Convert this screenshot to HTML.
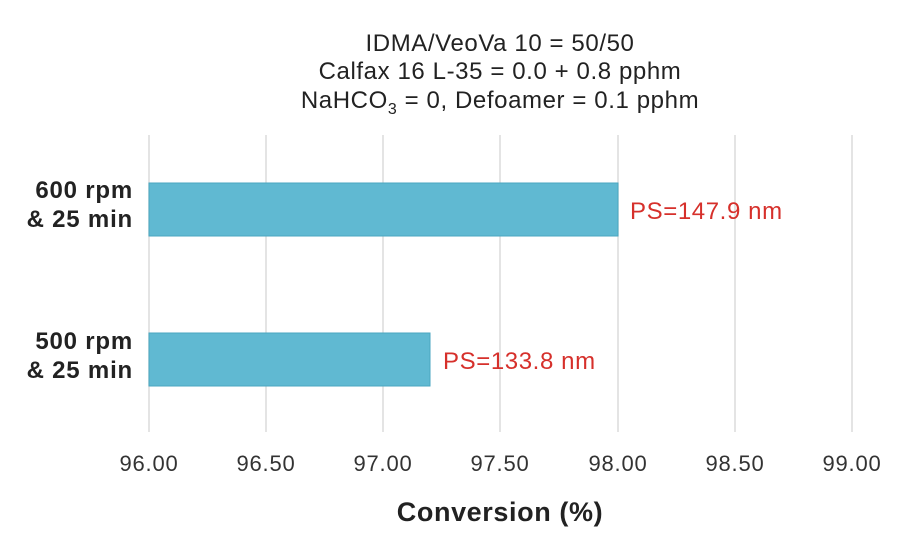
<!DOCTYPE html>
<html><head><meta charset="utf-8"><style>
body{margin:0;background:#fff;}
svg{display:block;font-family:"Liberation Sans",sans-serif;}
</style></head><body>
<svg width="900" height="550" viewBox="0 0 900 550">
<g stroke="#dcdcdc" stroke-width="1.5">
<line x1="149" y1="135" x2="149" y2="432"/>
<line x1="266" y1="135" x2="266" y2="432"/>
<line x1="383" y1="135" x2="383" y2="432"/>
<line x1="500" y1="135" x2="500" y2="432"/>
<line x1="618" y1="135" x2="618" y2="432"/>
<line x1="735" y1="135" x2="735" y2="432"/>
<line x1="852" y1="135" x2="852" y2="432"/>
</g>
<rect x="149" y="183" width="469" height="53" fill="#60b9d2" stroke="#4aa6c0" stroke-width="1"/>
<rect x="149" y="333" width="281" height="53" fill="#60b9d2" stroke="#4aa6c0" stroke-width="1"/>
<g fill="#d6302b" font-size="24" letter-spacing="0.6">
<text x="630" y="219">PS=147.9 nm</text>
<text x="443" y="369">PS=133.8 nm</text>
</g>
<g fill="#222" font-size="24" font-weight="bold" text-anchor="end" letter-spacing="0.8">
<text x="133" y="198">600 rpm</text>
<text x="133" y="227">&amp; 25 min</text>
<text x="133" y="349">500 rpm</text>
<text x="133" y="378">&amp; 25 min</text>
</g>
<g fill="#333" font-size="22" text-anchor="middle" letter-spacing="0.8">
<text x="149" y="471">96.00</text>
<text x="266" y="471">96.50</text>
<text x="383" y="471">97.00</text>
<text x="500" y="471">97.50</text>
<text x="618" y="471">98.00</text>
<text x="735" y="471">98.50</text>
<text x="852" y="471">99.00</text>
</g>
<text x="500" y="521" fill="#222" font-size="27" font-weight="bold" text-anchor="middle" letter-spacing="0.6">Conversion (%)</text>
<g fill="#222" font-size="24" text-anchor="middle" letter-spacing="0.6">
<text x="500" y="51">IDMA/VeoVa 10 = 50/50</text>
<text x="500" y="79">Calfax 16 L-35 = 0.0 + 0.8 pphm</text>
<text x="500" y="108">NaHCO<tspan font-size="16" dy="6">3</tspan><tspan dy="-6"> = 0, Defoamer = 0.1 pphm</tspan></text>
</g>
</svg>
</body></html>
